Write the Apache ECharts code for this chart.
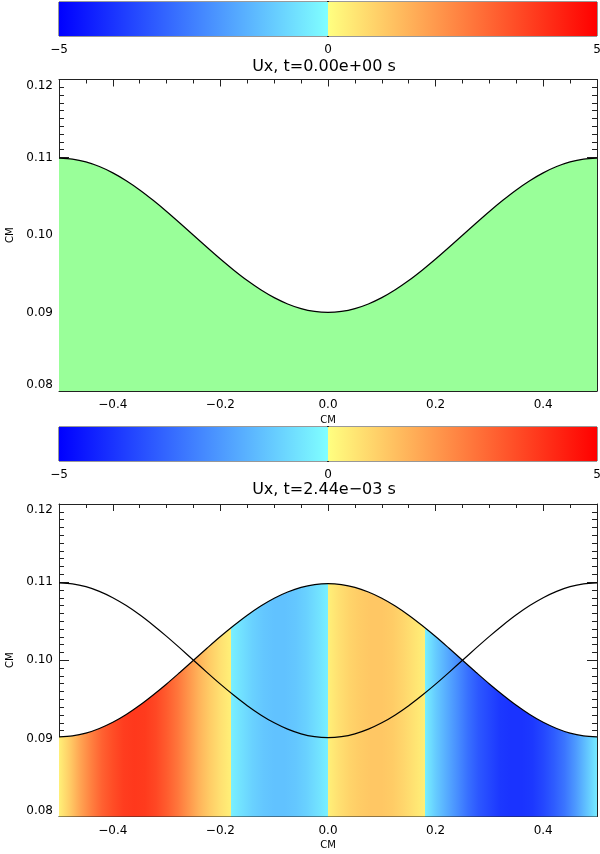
<!DOCTYPE html>
<html>
<head>
<meta charset="utf-8">
<script src="https://cdn.jsdelivr.net/npm/echarts@6/dist/echarts.min.js"></script>
<style>
html,body{margin:0;padding:0;background:#fff;}
#c{width:600px;height:854px;}
</style>
</head>
<body>
<div id="c"></div>
<script>
// ---- data ----
const titles = ['Ux, t=0.00e+00 s', 'Ux, t=2.44e\u221203 s'];
const xs = [-0.5,-0.475,-0.45,-0.425,-0.4,-0.375,-0.35,-0.325,-0.3,-0.275,-0.25,-0.225,-0.2,-0.175,-0.15,-0.125,-0.1,-0.075,-0.05,-0.025,0,
            0.025,0.05,0.075,0.1,0.125,0.15,0.175,0.2,0.225,0.25,0.275,0.3,0.325,0.35,0.375,0.4,0.425,0.45,0.475,0.5];
// initial interface height (panel 1 and the black reference line of panel 2)
const yInitial = [0.1099,0.10978,0.10942,0.10882,0.10801,0.107,0.10582,0.10449,0.10306,0.10155,0.1,0.09845,0.09694,0.09551,0.09418,0.093,0.09199,0.09118,0.09058,0.09022,0.0901,
                  0.09022,0.09058,0.09118,0.09199,0.093,0.09418,0.09551,0.09694,0.09845,0.1,0.10155,0.10306,0.10449,0.10582,0.107,0.10801,0.10882,0.10942,0.10978,0.1099];
// interface height at t=2.44e-03 s
const yLater = [0.0902,0.09032,0.09067,0.09127,0.09206,0.09306,0.09424,0.09556,0.09697,0.09847,0.1,0.10153,0.10303,0.10444,0.10576,0.10694,0.10794,0.10873,0.10933,0.10968,0.1098,
                0.10968,0.10933,0.10873,0.10794,0.10694,0.10576,0.10444,0.10303,0.10153,0.1,0.09847,0.09697,0.09556,0.09424,0.09306,0.09206,0.09127,0.09067,0.09032,0.0902];
// Ux along x at t=2.44e-03 s (x repeated where Ux jumps)
const uxX = [-0.5,-0.48,-0.46,-0.44,-0.42,-0.4,-0.38,-0.36,-0.34,-0.32,-0.3,-0.28,-0.26,-0.24,-0.22,-0.2,-0.18,
             -0.18,-0.16,-0.14,-0.12,-0.1,-0.08,-0.06,-0.04,-0.02,0,
             0,0.02,0.04,0.06,0.08,0.1,0.12,0.14,0.16,0.18,
             0.18,0.2,0.22,0.24,0.26,0.28,0.3,0.32,0.34,0.36,0.38,0.4,0.42,0.44,0.46,0.48,0.5];
const uxVal = [0.3,1.0,1.8,2.5,3.1,3.5,3.8,3.9,3.85,3.6,3.2,2.7,2.1,1.5,1.0,0.6,0.3,
               -0.3,-0.6,-0.9,-1.1,-1.2,-1.2,-1.1,-0.9,-0.6,-0.3,
               0.3,0.6,0.85,1.0,1.1,1.1,1.0,0.8,0.55,0.3,
               -0.3,-1.0,-1.6,-2.2,-2.8,-3.3,-3.6,-3.9,-4.0,-4.0,-3.9,-3.6,-3.2,-2.7,-2.0,-1.2,-0.4];
// colour table
const cmapVals = [-5, 0, 0, 5];
const cmapColors = ['#0000ff', '#80ffff', '#ffff80', '#ff0000'];
const cbarTicks = [-5, 0, 5];
const xMajor = [-0.4, -0.2, 0, 0.2, 0.4];
const xMinor = [-0.45,-0.35,-0.3,-0.25,-0.15,-0.1,-0.05,0.05,0.1,0.15,0.25,0.3,0.35,0.45];

// ---- helpers ----
function hex2rgb(h){return [parseInt(h.substr(1,2),16),parseInt(h.substr(3,2),16),parseInt(h.substr(5,2),16)];}
function cmap(v){
  let i0, i1;
  if (v < 0) { i0 = 0; i1 = 1; } else { i0 = 2; i1 = 3; }
  const t = Math.max(0, Math.min(1, (v - cmapVals[i0]) / (cmapVals[i1] - cmapVals[i0])));
  const a = hex2rgb(cmapColors[i0]), b = hex2rgb(cmapColors[i1]);
  const c = a.map((x,k)=>Math.round(x + (b[k]-x)*t));
  return 'rgb(' + c.join(',') + ')';
}
const FONT = 'DejaVu Sans';
const minusFmt = v => {
  const s = (Math.abs(v) < 1e-9) ? '0.0' : Math.abs(v).toFixed(1);
  return (v < -1e-9 ? '\u2212' : '') + s;
};
const cbFmt = v => (v < 0 ? '\u2212' : '') + Math.abs(v);

const X0 = -0.5, X1 = 0.5;
const L = 59, W = 538;
const panels = [
  {cbTop: 2, cbH: 34, top: 79.5, h: 311.5, titleTop: 59},
  {cbTop: 427, cbH: 34, top: 504, h: 312.5, titleTop: 481.5}
];

const grids = [], xAxes = [], yAxes = [], series = [], titleOpt = [];
const axisCol = '#222';

panels.forEach((p, pi) => {
  // colour bar grid
  const gCb = grids.length;
  grids.push({left: L, top: p.cbTop, width: W, height: p.cbH, show: true, borderColor: '#333', borderWidth: 1,
    backgroundColor: 'transparent', containLabel: false, outerBoundsMode: 'none'});
  const xCb = xAxes.length;
  xAxes.push({type: 'value', gridIndex: gCb, min: -5, max: 5, position: 'bottom',
    axisLine: {show: false}, axisTick: {show: false}, splitLine: {show: false},
    axisLabel: {customValues: cbarTicks, formatter: cbFmt, margin: 8, fontFamily: FONT, fontSize: 12, color: '#000'}});
  const yCb = yAxes.length;
  yAxes.push({type: 'value', gridIndex: gCb, min: 0, max: 1, axisLabel: {show: false}, axisTick: {show: false}, splitLine: {show: false},
    axisLine: {show: true, lineStyle: {color: '#000', width: 2}}});
  series.push({type: 'line', xAxisIndex: xCb, yAxisIndex: yCb, data: [[-5, 1], [5, 1]], symbol: 'none', silent: true,
    lineStyle: {width: 0}, areaStyle: {opacity: 1, origin: 'start', color: {type: 'linear', x: 0, y: 0, x2: 1, y2: 0,
      colorStops: cmapVals.map((v, i) => ({offset: (v + 5) / 10, color: cmapColors[i]}))}}});

  // title
  titleOpt.push({text: titles[pi], left: 324, top: p.titleTop, textAlign: 'center', padding: 0,
    textStyle: {fontFamily: FONT, fontSize: 16, fontWeight: 'normal', color: '#000'}});

  // plot grid
  const g = grids.length;
  grids.push({left: L, top: p.top, width: W, height: p.h, show: false, containLabel: false, outerBoundsMode: 'none'});
  const xMain = xAxes.length;
  xAxes.push({type: 'value', gridIndex: g, min: X0, max: X1, position: 'bottom',
    name: 'CM', nameLocation: 'middle', nameGap: 24, nameTextStyle: {fontFamily: FONT, fontSize: 10, color: '#000'},
    axisLine: {show: true, onZero: false, lineStyle: {color: axisCol, width: 1}},
    axisTick: {inside: true, length: 6, customValues: xMajor, lineStyle: {color: axisCol}},
    axisLabel: {customValues: xMajor, formatter: minusFmt, margin: 8, fontFamily: FONT, fontSize: 12, color: '#000'},
    splitLine: {show: false}});
  xAxes.push({type: 'value', gridIndex: g, min: X0, max: X1, position: 'bottom',
    axisLine: {show: false, onZero: false}, axisLabel: {show: false}, splitLine: {show: false},
    axisTick: {inside: true, length: 3, customValues: xMinor, lineStyle: {color: axisCol}}});
  xAxes.push({type: 'value', gridIndex: g, min: X0, max: X1, position: 'top',
    axisLine: {show: true, onZero: false, lineStyle: {color: axisCol, width: 1}}, axisLabel: {show: false}, splitLine: {show: false},
    axisTick: {inside: true, length: 7, customValues: xMajor, lineStyle: {color: axisCol}}});
  xAxes.push({type: 'value', gridIndex: g, min: X0, max: X1, position: 'top',
    axisLine: {show: false, onZero: false}, axisLabel: {show: false}, splitLine: {show: false},
    axisTick: {inside: true, length: 4, customValues: xMinor, lineStyle: {color: axisCol}}});
  const yMain = yAxes.length;
  yAxes.push({type: 'value', gridIndex: g, min: 0.08, max: 0.12, interval: 0.01, position: 'left',
    name: 'CM', nameLocation: 'middle', nameGap: 41, nameTextStyle: {fontFamily: FONT, fontSize: 10, color: '#000'},
    axisLine: {show: true, onZero: false, lineStyle: {color: axisCol, width: 1}},
    axisTick: {inside: true, length: 10, lineStyle: {color: axisCol}},
    minorTick: {show: true, splitNumber: 10, length: 5, lineStyle: {color: axisCol}},
    axisLabel: {formatter: v => v.toFixed(2), margin: 6, fontFamily: FONT, fontSize: 12, color: '#000',
      verticalAlignMinLabel: 'bottom', verticalAlignMaxLabel: 'top'},
    splitLine: {show: false}});
  yAxes.push({type: 'value', gridIndex: g, min: 0.08, max: 0.12, interval: 0.01, position: 'right',
    axisLine: {show: true, onZero: false, lineStyle: {color: axisCol, width: 1}},
    axisTick: {inside: true, length: 10, lineStyle: {color: axisCol}},
    minorTick: {show: true, splitNumber: 10, length: 5, lineStyle: {color: axisCol}},
    axisLabel: {show: false}, splitLine: {show: false}});

  if (pi === 0) {
    series.push({type: 'line', xAxisIndex: xMain, yAxisIndex: yMain, data: xs.map((x, i) => [x, yInitial[i]]),
      smooth: 0.3, symbol: 'none', silent: true, z: 2,
      lineStyle: {color: '#000', width: 1.2},
      areaStyle: {color: '#99ff99', opacity: 1, origin: 'start'}});
  } else {
    series.push({type: 'line', xAxisIndex: xMain, yAxisIndex: yMain, data: xs.map((x, i) => [x, yLater[i]]),
      smooth: 0.3, symbol: 'none', silent: true, z: 2,
      lineStyle: {color: '#000', width: 1.2},
      areaStyle: {opacity: 1, origin: 'start', color: {type: 'linear', x: 0, y: 0, x2: 1, y2: 0,
        colorStops: uxX.map((x, i) => ({offset: (x - X0) / (X1 - X0), color: cmap(uxVal[i])}))}}});
    series.push({type: 'line', xAxisIndex: xMain, yAxisIndex: yMain, data: xs.map((x, i) => [x, yInitial[i]]),
      smooth: 0.3, symbol: 'none', silent: true, z: 3,
      lineStyle: {color: '#000', width: 1.2}});
  }
});

const chart = echarts.init(document.getElementById('c'), null, {renderer: 'canvas'});
chart.setOption({
  animation: false,
  backgroundColor: '#fff',
  title: titleOpt,
  grid: grids,
  xAxis: xAxes,
  yAxis: yAxes,
  series: series
});
</script>
</body>
</html>
